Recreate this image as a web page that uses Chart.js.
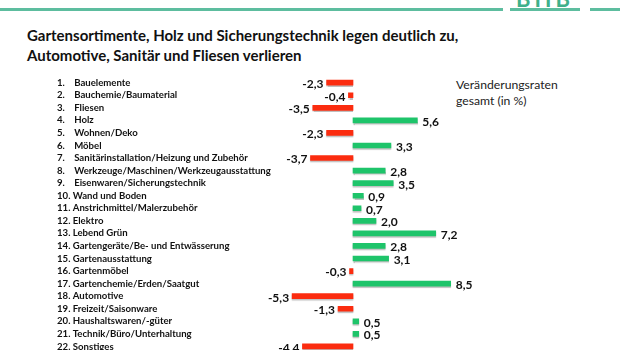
<!DOCTYPE html>
<html lang="de">
<head>
    <meta charset="UTF-8">
    <title>Veränderungsraten</title>
    <script src="https://cdn.jsdelivr.net/npm/chart.js"></script>
    <style>
        html, body {
            margin: 0;
            padding: 0;
            width: 620px;
            height: 350px;
            overflow: hidden;
            background: white;
            font-family: Lato, Arial, sans-serif;
        }
        .topline {
            position: absolute;
            top: 8px;
            height: 3px;
            background: #5dbd9f;
        }
        #logo {
            position: absolute;
            left: 512px;
            top: -15px;
            width: 66px;
            font: bold 22px Lato, sans-serif;
            color: #3fb08a;
            text-align: center;
            letter-spacing: 4px;
        }
        #title {
            position: absolute;
            left: 27px;
            top: 25px;
            font-weight: bold;
            font-size: 15px;
            line-height: 20px;
            color: #111;
        }
        #note {
            position: absolute;
            left: 456px;
            top: 77px;
            font-size: 12.2px;
            line-height: 16px;
            color: #222;
        }
        #wrap {
            position: absolute;
            left: 0;
            top: 0;
        }
    </style>
</head>
<body>
    <div class="topline" style="left:0;width:503px"></div>
    <div class="topline" style="left:510px;width:70px"></div>
    <div class="topline" style="left:590px;width:30px"></div>
    <div id="logo">BHB</div>
    <div id="title">Gartensortimente, Holz und Sicherungstechnik legen deutlich zu,<br>Automotive, Sanitär und Fliesen verlieren</div>
    <div id="note">Veränderungsraten<br>gesamt (in %)</div>
    <div id="wrap"><canvas id="chart" width="620" height="370"></canvas></div>

    <script>
        const categories = [
            '1. Bauelemente',
            '2. Bauchemie/Baumaterial',
            '3. Fliesen',
            '4. Holz',
            '5. Wohnen/Deko',
            '6. Möbel',
            '7. Sanitärinstallation/Heizung und Zubehör',
            '8. Werkzeuge/Maschinen/Werkzeugausstattung',
            '9. Eisenwaren/Sicherungstechnik',
            '10. Wand und Boden',
            '11. Anstrichmittel/Malerzubehör',
            '12. Elektro',
            '13. Lebend Grün',
            '14. Gartengeräte/Be- und Entwässerung',
            '15. Gartenausstattung',
            '16. Gartenmöbel',
            '17. Gartenchemie/Erden/Saatgut',
            '18. Automotive',
            '19. Freizeit/Saisonware',
            '20. Haushaltswaren/-güter',
            '21. Technik/Büro/Unterhaltung',
            '22. Sonstiges'
        ];
        const changes = [-2.3, -0.4, -3.5, 5.6, -2.3, 3.3, -3.7, 2.8, 3.5, 0.9, 0.7, 2.0, 7.2, 2.8, 3.1, -0.3, 8.5, -5.3, -1.3, 0.5, 0.5, -4.4];

        const red = '#fb2c0f';
        const green = '#1ec46a';

        // value labels next to the bars, German decimal comma
        const valueLabels = {
            id: 'valueLabels',
            afterDatasetsDraw(chart) {
                const ctx = chart.ctx;
                const meta = chart.getDatasetMeta(0);
                ctx.save();
                ctx.font = 'bold 12px Lato, sans-serif';
                ctx.fillStyle = '#111';
                ctx.textBaseline = 'middle';
                meta.data.forEach((bar, i) => {
                    const v = changes[i];
                    const txt = v.toFixed(1).replace('.', ',');
                    if (v < 0) {
                        ctx.textAlign = 'right';
                        ctx.fillText(txt, bar.x - 3, bar.y + 1.5);
                    } else {
                        ctx.textAlign = 'left';
                        ctx.fillText(txt, bar.x + 5, bar.y + 1.5);
                    }
                });
                ctx.restore();
            }
        };

        // soft shadow under the bars
        const barShadow = {
            id: 'barShadow',
            beforeDatasetsDraw(chart) {
                const ctx = chart.ctx;
                ctx.save();
                ctx.shadowColor = 'rgba(0,0,0,0.25)';
                ctx.shadowOffsetY = 1.5;
                ctx.shadowBlur = 1;
            },
            afterDatasetsDraw(chart) {
                chart.ctx.restore();
            }
        };

        new Chart(document.getElementById('chart'), {
            type: 'bar',
            data: {
                labels: categories,
                datasets: [{
                    data: changes,
                    backgroundColor: changes.map(v => v < 0 ? red : green),
                    barThickness: 5,
                    borderWidth: 0
                }]
            },
            plugins: [barShadow, valueLabels],
            options: {
                indexAxis: 'y',
                responsive: false,
                animation: false,
                layout: {
                    padding: { left: 57, top: 76.4, right: 5, bottom: 17.3 }
                },
                plugins: {
                    legend: { display: false },
                    tooltip: { enabled: false }
                },
                scales: {
                    x: {
                        display: false,
                        min: -6.44,
                        max: 22.8
                    },
                    y: {
                        grid: { display: false },
                        border: { display: false },
                        afterFit(scale) {
                            scale.width = 222;
                        },
                        ticks: {
                            crossAlign: 'far',
                            autoSkip: false,
                            color: '#111',
                            font: { family: 'Lato', weight: 'bold', size: 9.6 },
                            // single-digit numbers get extra space so the names line up
                            callback(value) {
                                const label = categories[value];
                                return /^\d\. /.test(label) ? label.replace('. ', '.\u00a0\u00a0\u00a0 ') : label;
                            }
                        }
                    }
                }
            }
        });
    </script>
</body>
</html>
